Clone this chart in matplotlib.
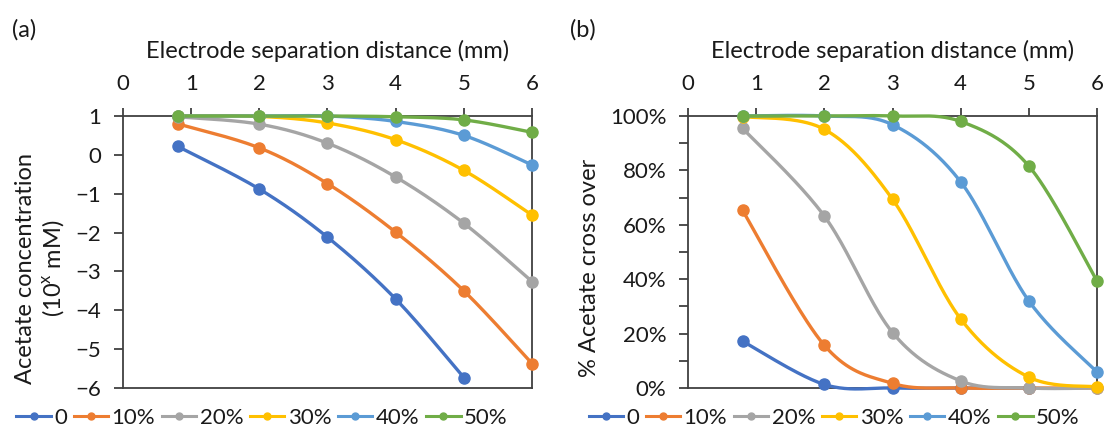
import numpy as np
import matplotlib
matplotlib.use("Agg")
import matplotlib.pyplot as plt
from matplotlib.lines import Line2D
from matplotlib.ticker import MultipleLocator, FuncFormatter

# ---------------- data ----------------
labels = ["0", "10%", "20%", "30%", "40%", "50%"]
colors = ["#4472C4", "#ED7D31", "#A5A5A5", "#FFC000", "#5B9BD5", "#70AD47"]
dist = [0.8, 2, 3, 4, 5, 6]

# panel (a): log10 acetate concentration (mM)
conc_0 = [0.22, -0.88, -2.12, -3.71, -5.73]
conc_10 = [0.80, 0.18, -0.74, -1.99, -3.50, -5.37]
conc_20 = [0.98, 0.79, 0.30, -0.57, -1.76, -3.26]
conc_30 = [1.00, 0.99, 0.82, 0.39, -0.40, -1.55]
conc_40 = [1.00, 1.00, 1.00, 0.86, 0.50, -0.26]
conc_50 = [1.00, 1.00, 1.00, 0.98, 0.90, 0.58]

# panel (b): % acetate cross over
cross_0 = [17.2, 1.3, 0.0, 0.0, 0.0]
cross_10 = [65.3, 15.7, 1.7, 0.0, 0.0, 0.0]
cross_20 = [95.5, 63.2, 20.4, 2.6, 0.0, 0.0]
cross_30 = [99.8, 95.1, 69.4, 25.4, 4.0, 0.4]
cross_40 = [100.0, 100.0, 96.8, 75.8, 32.0, 5.9]
cross_50 = [100.0, 100.0, 100.0, 98.0, 81.6, 39.4]

conc_series = [conc_0, conc_10, conc_20, conc_30, conc_40, conc_50]
cross_series = [cross_0, cross_10, cross_20, cross_30, cross_40, cross_50]

x_ticks = [0, 1, 2, 3, 4, 5, 6]

# ---------------- style ----------------
FONT = "Lato"
plt.rcParams["font.family"] = [FONT, "DejaVu Sans"]
plt.rcParams["mathtext.fontset"] = "custom"
plt.rcParams["mathtext.rm"] = FONT
SPINE = "#404040"
TXT = "#1a1a1a"


def smooth_curve(ax, x, y, n=40):
    """Excel-like smoothed line (Catmull-Rom Bezier) computed in display space."""
    pts = ax.transData.transform(np.column_stack([x, y]))
    P = np.vstack([pts[0], pts, pts[-1]])
    segs = []
    t = np.linspace(0, 1, n)[:, None]
    for i in range(1, len(P) - 2):
        p0, p1, p2, p3 = P[i - 1], P[i], P[i + 1], P[i + 2]
        c1 = p1 + (p2 - p0) / 6.0
        c2 = p2 - (p3 - p1) / 6.0
        b = (1 - t) ** 3 * p1 + 3 * (1 - t) ** 2 * t * c1 + 3 * (1 - t) * t ** 2 * c2 + t ** 3 * p2
        segs.append(b)
    curve = np.vstack(segs)
    d = ax.transData.inverted().transform(curve)
    return d[:, 0], d[:, 1]


fig = plt.figure(figsize=(11.05, 4.43), dpi=100)
axA = fig.add_axes([123 / 1105, 1 - 388 / 443, 409 / 1105, 272 / 443])
axB = fig.add_axes([688 / 1105, 1 - 388 / 443, 409 / 1105, 272 / 443])


def style_axes(ax):
    ax.set_xlim(0, 6)
    ax.xaxis.set_ticks_position("top")
    ax.xaxis.set_label_position("top")
    ax.set_xticks(x_ticks)
    ax.set_xticklabels([str(v) for v in x_ticks])
    for s in ax.spines.values():
        s.set_color(SPINE)
        s.set_linewidth(1.3)
    ax.tick_params(axis="x", which="both", direction="out", length=5.5, width=1.3,
                   color=SPINE, labelsize=16, labelcolor=TXT, pad=10)
    ax.tick_params(axis="y", which="both", direction="out", length=6.5, width=1.3,
                   color=SPINE, labelsize=16, labelcolor=TXT, pad=9)
    ax.set_xlabel("Electrode separation distance (mm)", fontsize=17, color=TXT, labelpad=12)


style_axes(axA)
axA.set_ylim(-6, 1)
axA.set_yticks(list(range(-6, 2)))
axA.set_ylabel("Acetate concentration\n(10$^{\\mathregular{x}}$ mM)", fontsize=17, color=TXT,
               linespacing=1.2)
axA.yaxis.set_label_coords(-0.14, 0.44)

style_axes(axB)
axB.set_ylim(0, 100)
axB.yaxis.set_major_locator(MultipleLocator(20))
axB.yaxis.set_minor_locator(MultipleLocator(10))
axB.yaxis.set_major_formatter(FuncFormatter(lambda v, p: f"{v:.0f}%"))
axB.set_ylabel("% Acetate cross over", fontsize=17, color=TXT)
axB.yaxis.set_label_coords(-0.215, 0.44)

fig.canvas.draw()

for ax, series in ((axA, conc_series), (axB, cross_series)):
    for yv, c in zip(series, colors):
        xs = dist[:len(yv)]
        sx, sy = smooth_curve(ax, xs, yv)
        ax.plot(sx, sy, color=c, lw=2.4, solid_capstyle="round", clip_on=False, zorder=3)
        ax.plot(xs, yv, "o", color=c, ms=8, clip_on=False, zorder=4)

fig.text(12 / 1105, 1 - 30 / 443, "(a)", fontsize=17, color=TXT, va="center", ha="left")
fig.text(570 / 1105, 1 - 30 / 443, "(b)", fontsize=17, color=TXT, va="center", ha="left")

handles = [Line2D([0], [0], color=c, lw=2.2, marker="o", ms=5) for c in colors]
for cx in (262 / 1105, 834 / 1105):
    fig.legend(handles, labels, loc="center", bbox_to_anchor=(cx, 1 - 418 / 443), ncol=6,
               frameon=False, fontsize=16, handlelength=1.55, handletextpad=0.15,
               columnspacing=0.3, borderaxespad=0, labelcolor=TXT)

fig.savefig("out.png", dpi=100)
